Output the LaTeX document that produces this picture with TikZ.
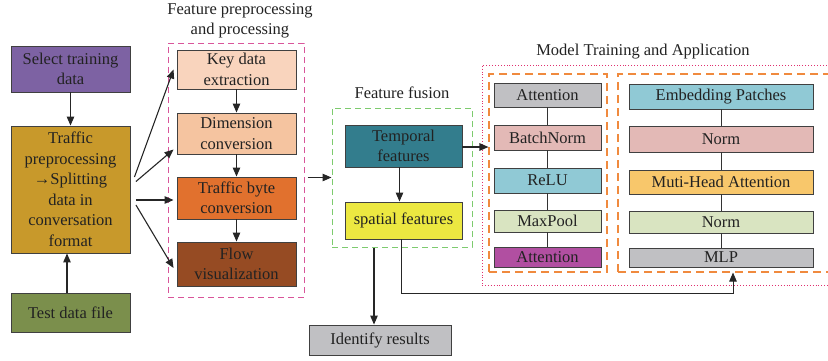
\documentclass[tikz,border=0pt]{standalone}
\usepackage{fontspec}
\setmainfont{Liberation Serif}
\usetikzlibrary{arrows.meta}
\definecolor{cpurple}{HTML}{7D62A3}
\definecolor{cmustard}{HTML}{C8992B}
\definecolor{colive}{HTML}{7B8F4C}
\definecolor{cpeach}{HTML}{F9D4BD}
\definecolor{cpeachb}{HTML}{F5C4A0}
\definecolor{corange}{HTML}{E1712E}
\definecolor{cbrown}{HTML}{964B23}
\definecolor{cteal}{HTML}{337D8D}
\definecolor{cyellow}{HTML}{ECE841}
\definecolor{cgray}{HTML}{C0C0C3}
\definecolor{cpink}{HTML}{E3B9B6}
\definecolor{cblue}{HTML}{90C9D5}
\definecolor{cgreen}{HTML}{D9E4C1}
\definecolor{cmag}{HTML}{B14FA1}
\definecolor{cgold}{HTML}{F8C76B}
\definecolor{cpinkline}{HTML}{D9559A}
\definecolor{cgreenline}{HTML}{7DCB6E}
\definecolor{corangeline}{HTML}{F08A3E}
\definecolor{cdotline}{HTML}{E0306F}
\definecolor{ctext}{HTML}{222222}
\begin{document}
\begin{tikzpicture}[x=1pt,y=-1pt,
  box/.style={draw=black!75, line width=0.9pt, inner sep=0pt, align=center, text=ctext,
    font=\fontsize{16.5}{20.5}\selectfont},
  ttl/.style={inner sep=0pt, align=center, text=ctext, font=\fontsize{16.5}{19.5}\selectfont},
  arr/.style={-{Triangle[length=9pt,width=7.5pt]}, line width=1.1pt, black!85},
  link/.style={line width=0.8pt, black!80},
  pinkbox/.style={draw=cpinkline, dashed, dash pattern=on 6pt off 4pt, line width=1pt, inner sep=0pt},
  greenbox/.style={draw=cgreenline, dashed, dash pattern=on 6pt off 4pt, line width=1pt, inner sep=0pt},
  orangebox/.style={draw=corangeline, dashed, dash pattern=on 8pt off 5pt, line width=1.1pt, inner sep=0pt},
  dotbox/.style={draw=cdotline, dotted, line width=0.9pt, inner sep=0pt}]
\useasboundingbox (0,0) rectangle (828,360);
\begin{scope}
\clip (0,0) rectangle (828,360);
% containers
\node[pinkbox, minimum width=136pt, minimum height=254pt] (pp) at (236,170) {};
\node[greenbox, minimum width=140pt, minimum height=139pt] (ff) at (402,177.5) {};
\node[dotbox, minimum width=358pt, minimum height=220pt] (mt) at (661,175) {};
\node[orangebox, minimum width=118pt, minimum height=198pt] (ml) at (548,173) {};
\node[orangebox, minimum width=222pt, minimum height=198pt] (mr) at (729,173) {};
% titles
\node[ttl] (t1) at (240,21) {Feature preprocessing\\and processing};
\node[ttl] (t2) at (402,93) {Feature fusion};
\node[ttl] (t3) at (643,52) {Model Training and Application};
% left column
\node[box, fill=cpurple, minimum width=119pt, minimum height=46pt] (sel) at (70.5,69) {Select training\\data};
\node[box, fill=cmustard, minimum width=119pt, minimum height=127pt] (traf) at (70.5,189.5)
  {Traffic\\preprocessing\\→Splitting\\data in\\conversation\\format};
\node[box, fill=colive, minimum width=119pt, minimum height=39pt] (test) at (70.5,312.5) {Test data file};
% feature preprocessing
\node[box, fill=cpeach, minimum width=119pt, minimum height=39pt] (key) at (236.5,69.5) {Key data\\extraction};
\node[box, fill=cpeachb, minimum width=119pt, minimum height=41pt] (dim) at (236.5,133.5) {Dimension\\conversion};
\node[box, fill=corange, minimum width=119pt, minimum height=42pt] (tbc) at (236.5,198) {Traffic byte\\conversion};
\node[box, fill=cbrown, minimum width=119pt, minimum height=44pt] (flow) at (236.5,264) {Flow\\visualization};
% fusion
\node[box, fill=cteal, minimum width=117pt, minimum height=42pt] (temp) at (403.5,146) {Temporal\\features};
\node[box, fill=cyellow, minimum width=117pt, minimum height=37pt] (spat) at (403.5,220.5) {spatial features};
\node[box, fill=cgray, minimum width=142pt, minimum height=30pt] (ident) at (380,340) {Identify results};
% model left
\node[box, fill=cgray, minimum width=107pt, minimum height=24pt] (a1) at (547.5,95) {Attention};
\node[box, fill=cpink, minimum width=107pt, minimum height=25pt] (bn) at (547.5,137.5) {BatchNorm};
\node[box, fill=cblue, minimum width=107pt, minimum height=25pt] (relu) at (547.5,180.5) {ReLU};
\node[box, fill=cgreen, minimum width=107pt, minimum height=22pt] (mp) at (547.5,221) {MaxPool};
\node[box, fill=cmag, minimum width=107pt, minimum height=20pt] (a2) at (547.5,257) {Attention};
% model right
\node[box, fill=cblue, minimum width=184pt, minimum height=25pt] (emb) at (721,96.5) {Embedding Patches};
\node[box, fill=cpink, minimum width=184pt, minimum height=26pt] (n1) at (721,139) {Norm};
\node[box, fill=cgold, minimum width=184pt, minimum height=24pt] (mha) at (721,182) {Muti-Head Attention};
\node[box, fill=cgreen, minimum width=184pt, minimum height=22pt] (n2) at (721,222) {Norm};
\node[box, fill=cgray, minimum width=184pt, minimum height=19pt] (mlp) at (721,257.5) {MLP};
% links in model
\draw[link] (a1) -- (bn); \draw[link] (bn) -- (relu); \draw[link] (relu) -- (mp); \draw[link] (mp) -- (a2);
\draw[link] (emb) -- (n1); \draw[link] (n1) -- (mha); \draw[link] (mha) -- (n2); \draw[link] (n2) -- (mlp);
% arrows left
\draw[arr] (sel) -- (traf);
\draw[arr] ([xshift=-3.5pt]test.north) -- ([xshift=-3.5pt]traf.south);
\draw[arr] ([shift={(4,-12.5)}]traf.east) -- ([xshift=-3pt]key.west);
\draw[arr] ([shift={(5.5,-8)}]traf.east) -- ([shift={(-3,16)}]dim.west);
\draw[arr] ([shift={(5.5,10.5)}]traf.east) -- ([shift={(-3,2)}]tbc.west);
\draw[arr] ([shift={(5.5,15.5)}]traf.east) -- ([shift={(-3,4)}]flow.west);
\draw[arr] (key) -- (dim);
\draw[arr] (dim) -- (tbc);
\draw[arr] (tbc) -- (flow);
% to fusion
\draw[arr] ([xshift=3pt]pp.east |- ff.west) -- (ff.west);
\draw[arr] ([xshift=-4pt]temp.south) -- ([xshift=-4pt]spat.north);
\draw[arr] ([yshift=-1pt]temp.east) -- ([yshift=-1pt]temp.east -| ml.west);
\draw[arr] ([xshift=-6pt]ident.north |- ff.south) -- ([xshift=-6pt]ident.north);
\coordinate (turn) at (733,293);
\draw[arr, line width=0.9pt] ([xshift=-2.5pt]spat.south) |- (turn) -- (turn |- mr.south);
\end{scope}
\end{tikzpicture}
\end{document}
